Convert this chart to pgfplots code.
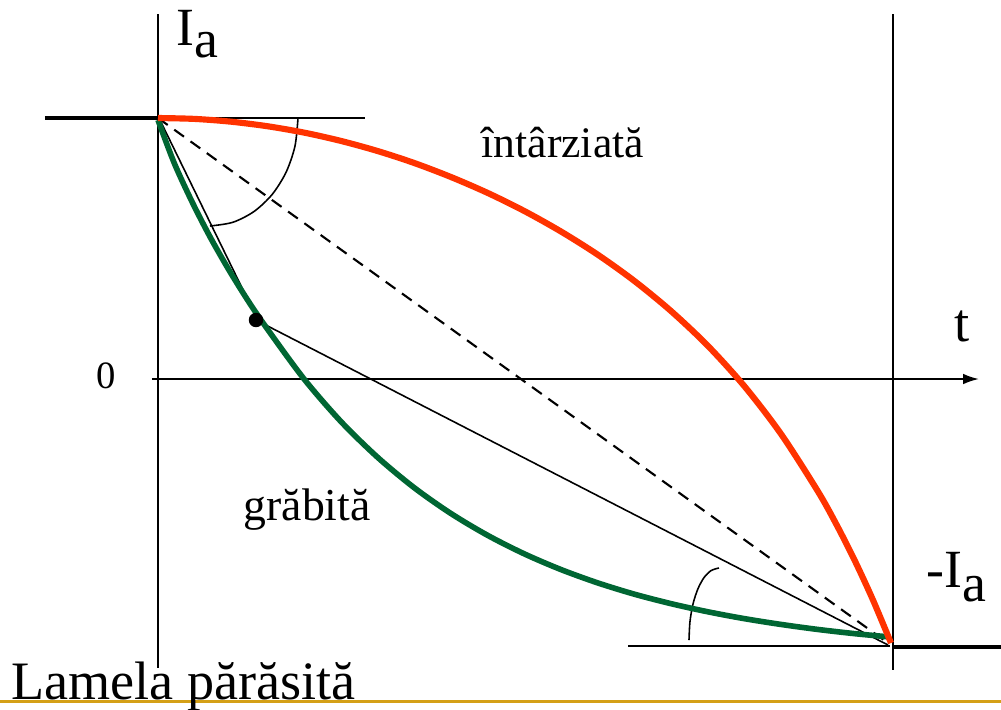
\documentclass[border=0pt]{standalone}
\usepackage{pgfplots}
\pgfplotsset{compat=1.18}
\usepackage{fontspec}
\setmainfont{Liberation Serif}
\usetikzlibrary{arrows.meta}
\definecolor{redc}{RGB}{255,51,0}
\definecolor{greenc}{RGB}{0,102,51}
\definecolor{goldc}{RGB}{212,160,23}
\begin{document}
\begin{tikzpicture}
\begin{axis}[
  scale only axis, width=10.01cm, height=7.09cm,
  xmin=0, xmax=1001, ymin=0, ymax=709, y dir=reverse,
  hide axis, clip=false,
]
% axes
\addplot[black, line width=0.55pt] coordinates {(158,14) (158,668)};
\addplot[black, line width=0.55pt] coordinates {(893,14) (893,670)};
\addplot[black, line width=0.55pt, -{Latex[length=4.5pt,width=3pt]}] coordinates {(152,379) (979,379)};
% thick levels
\addplot[black, line width=1.4pt] coordinates {(45,118) (158,118)};
\addplot[black, line width=1.4pt] coordinates {(893,647) (1001,647)};
% thin horizontals
\addplot[black, line width=0.45pt] coordinates {(158,118) (365,118)};
\addplot[black, line width=0.45pt] coordinates {(628,646) (890,646)};
% tangent lines
\addplot[black, line width=0.45pt] coordinates {(159,118) (246,296)};
\addplot[black, line width=0.45pt] coordinates {(256,320) (888,645)};
% dashed chord
\addplot[black, line width=0.6pt, dash pattern=on 3.4pt off 2.3pt] coordinates {(158,118) (888,643)};
% angle arcs
\addplot[black, line width=0.45pt, smooth] coordinates {(298,118) (295.0,146.0) (286.2,172.0) (272.2,194.4) (254.0,211.5) (232.8,222.3) (210,226)};
\addplot[black, line width=0.45pt, smooth] coordinates {(689,640) (690.0,621.4) (693.0,604) (697.8,589.1) (704,577.6) (711.2,570.5) (719,568)};
% point
\addplot[only marks, mark=*, mark size=1.85pt, black] coordinates {(256,320)};
% green curve (grabita)
\addplot[greenc, line width=1.6pt, smooth] coordinates {
(158,120) (174,162.5) (192,201.7) (210.5,237.7) (229.5,270.9) (248.5,301.4) (267.8,329.6)
(304.4,379.4) (341,421.6) (377.6,457.3) (414.2,487.7) (450.8,513.4) (487.4,535.2) (524,553.7)
(560.6,569.4) (597.2,582.7) (633.8,594.0) (670.4,603.5) (707,611.6) (743.6,618.5) (780.2,624.3)
(816.8,629.3) (853.4,633.5) (890,637)};
% red curve (intarziata)
\addplot[redc, line width=1.75pt, smooth] coordinates {
(158,118) (194.65,118.9) (231.3,121.7) (267.95,126.3) (304.6,132.7) (341.25,141.0) (377.9,151.1)
(414.55,163.1) (451.2,177.1) (487.85,193.0) (524.5,211.1) (561.15,231.6) (597.8,254.7) (634.45,281.0)
(671.1,311.1) (707.75,345.7) (744.4,386.2) (781.05,434.0) (817.7,491.0) (836.03,523.7) (854.35,559.7)
(872.68,599.3) (891,643)};
% gold rule
\addplot[goldc, line width=0.9pt] coordinates {(0,701.5) (1001,701.5)};
% labels
\node[anchor=base west, inner sep=0, font=\fontsize{15.3}{18}\selectfont] at (axis cs:176,45) {I\raisebox{-3.6pt}{a}};
\node[anchor=base west, inner sep=0, font=\fontsize{15.3}{18}\selectfont] at (axis cs:926,587) {-I\raisebox{-4pt}{a}};
\node[anchor=base west, inner sep=0, font=\fontsize{15.5}{18}\selectfont] at (axis cs:954,341) {t};
\node[anchor=base west, inner sep=0, font=\fontsize{11}{13}\selectfont] at (axis cs:96,388) {0};
\node[anchor=base west, inner sep=0, font=\fontsize{12.4}{15}\selectfont] at (axis cs:481,157) {întârziată};
\node[anchor=base west, inner sep=0, font=\fontsize{13}{15}\selectfont] at (axis cs:243,520) {grăbită};
\node[anchor=base west, inner sep=0, font=\fontsize{15.4}{18}\selectfont] at (axis cs:11,699) {Lamela părăsită};
\end{axis}
\pgfresetboundingbox
\path (0,0) rectangle (10.01cm,7.09cm);
\end{tikzpicture}
\end{document}
